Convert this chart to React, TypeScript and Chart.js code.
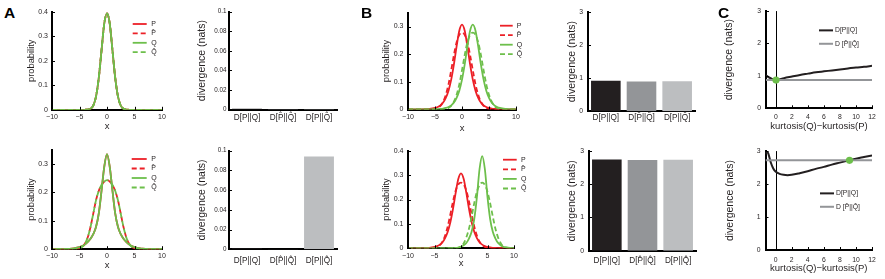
import React, { useEffect, useRef } from 'react';
import { Chart, registerables } from 'chart.js';
Chart.register(...registerables);

// ---------------- DATA ----------------
const DENS_X = [-10, -8, -6, -5, -4.5, -4, -3.5, -3, -2.5, -2, -1.5, -1, -0.5, 0, 0.5, 1, 1.5, 2, 2.5, 3, 3.5, 4, 4.5, 5, 5.5, 6, 6.5, 7, 8, 10];
const DENS_X_TICKS = [-10, -5, 0, 5, 10];

// Panel A, top row: P, P^, Q, Q^ all coincide
const A1_P = [0, 0, 0, 0, 0, 0.0001, 0.0009, 0.0044, 0.0175, 0.054, 0.129, 0.241, 0.351, 0.393, 0.351, 0.241, 0.129, 0.054, 0.0175, 0.0044, 0.0009, 0.0001, 0, 0, 0, 0, 0, 0, 0, 0];
const A1_PHAT = [0, 0, 0, 0, 0, 0.0001, 0.0009, 0.0044, 0.0175, 0.054, 0.129, 0.241, 0.351, 0.393, 0.351, 0.241, 0.129, 0.054, 0.0175, 0.0044, 0.0009, 0.0001, 0, 0, 0, 0, 0, 0, 0, 0];
const A1_Q = [0, 0, 0, 0, 0, 0.0001, 0.0009, 0.0044, 0.0175, 0.054, 0.129, 0.241, 0.351, 0.393, 0.351, 0.241, 0.129, 0.054, 0.0175, 0.0044, 0.0009, 0.0001, 0, 0, 0, 0, 0, 0, 0, 0];
const A1_QHAT = [0, 0, 0, 0, 0, 0.0001, 0.0009, 0.0044, 0.0175, 0.054, 0.129, 0.241, 0.351, 0.393, 0.351, 0.241, 0.129, 0.054, 0.0175, 0.0044, 0.0009, 0.0001, 0, 0, 0, 0, 0, 0, 0, 0];
const A1_Y_TICKS = [0, 0.1, 0.2, 0.3, 0.4];

// Panel A, bottom row
const A2_P = [0.0001, 0.0005, 0.003, 0.007, 0.011, 0.017, 0.026, 0.037, 0.053, 0.078, 0.125, 0.205, 0.29, 0.335, 0.29, 0.205, 0.125, 0.078, 0.053, 0.037, 0.026, 0.017, 0.011, 0.007, 0.0045, 0.003, 0.002, 0.0013, 0.0005, 0.0001];
const A2_PHAT = [0, 0, 0.0003, 0.003, 0.008, 0.02, 0.042, 0.078, 0.125, 0.172, 0.205, 0.226, 0.238, 0.243, 0.238, 0.226, 0.205, 0.172, 0.125, 0.078, 0.042, 0.02, 0.008, 0.003, 0.001, 0.0003, 0, 0, 0, 0];
const A2_Q = [0.0001, 0.0005, 0.003, 0.007, 0.011, 0.017, 0.026, 0.037, 0.053, 0.078, 0.125, 0.205, 0.29, 0.335, 0.29, 0.205, 0.125, 0.078, 0.053, 0.037, 0.026, 0.017, 0.011, 0.007, 0.0045, 0.003, 0.002, 0.0013, 0.0005, 0.0001];
const A2_QHAT = [0, 0, 0.0003, 0.003, 0.008, 0.02, 0.042, 0.078, 0.125, 0.172, 0.205, 0.226, 0.238, 0.243, 0.238, 0.226, 0.205, 0.172, 0.125, 0.078, 0.042, 0.02, 0.008, 0.003, 0.001, 0.0003, 0, 0, 0, 0];
const A2_Y_TICKS = [0, 0.1, 0.2, 0.3];

// Panel B, top row
const B1_P = [0.00005, 0.0003, 0.002, 0.0055, 0.009, 0.015, 0.025, 0.042, 0.068, 0.108, 0.163, 0.228, 0.285, 0.307, 0.285, 0.228, 0.163, 0.108, 0.068, 0.042, 0.025, 0.015, 0.009, 0.0055, 0.0033, 0.002, 0.0012, 0.0007, 0.0003, 0.00005];
const B1_PHAT = [0, 0, 0.0004, 0.0025, 0.006, 0.013, 0.028, 0.053, 0.091, 0.142, 0.197, 0.243, 0.27, 0.278, 0.27, 0.243, 0.197, 0.142, 0.091, 0.053, 0.028, 0.013, 0.006, 0.0025, 0.001, 0.0004, 0.0001, 0, 0, 0];
const B1_Q = [0, 0.00005, 0.0003, 0.0007, 0.0012, 0.002, 0.0033, 0.0055, 0.009, 0.015, 0.025, 0.042, 0.068, 0.108, 0.163, 0.228, 0.285, 0.307, 0.285, 0.228, 0.163, 0.108, 0.068, 0.042, 0.025, 0.015, 0.009, 0.0055, 0.002, 0.0003];
const B1_QHAT = [0, 0, 0, 0, 0.0001, 0.0004, 0.001, 0.0025, 0.006, 0.013, 0.028, 0.053, 0.091, 0.142, 0.197, 0.243, 0.27, 0.278, 0.27, 0.243, 0.197, 0.142, 0.091, 0.053, 0.028, 0.013, 0.006, 0.0025, 0.0004, 0];
const B1_Y_TICKS = [0, 0.1, 0.2, 0.3];

// Panel B, bottom row
const B2_P = [0.00005, 0.0003, 0.002, 0.0055, 0.009, 0.015, 0.025, 0.042, 0.068, 0.108, 0.163, 0.228, 0.285, 0.307, 0.285, 0.228, 0.163, 0.108, 0.068, 0.042, 0.025, 0.015, 0.009, 0.0055, 0.0033, 0.002, 0.0012, 0.0007, 0.0003, 0.00005];
const B2_PHAT = [0, 0, 0.0004, 0.0025, 0.006, 0.013, 0.027, 0.052, 0.09, 0.14, 0.193, 0.237, 0.262, 0.269, 0.262, 0.237, 0.193, 0.14, 0.09, 0.052, 0.027, 0.013, 0.006, 0.0025, 0.001, 0.0004, 0.0001, 0, 0, 0];
const B2_Q = [0, 0, 0, 0, 0, 0, 0, 0.0001, 0.0002, 0.0004, 0.0008, 0.0015, 0.003, 0.006, 0.012, 0.022, 0.04, 0.068, 0.12, 0.21, 0.325, 0.378, 0.325, 0.21, 0.12, 0.068, 0.04, 0.022, 0.006, 0.0004];
const B2_QHAT = [0, 0, 0, 0, 0, 0, 0, 0, 0, 0, 0.0004, 0.001, 0.003, 0.008, 0.02, 0.044, 0.08, 0.13, 0.185, 0.232, 0.26, 0.269, 0.26, 0.232, 0.185, 0.13, 0.08, 0.044, 0.008, 0];
const B2_Y_TICKS = [0, 0.1, 0.2, 0.3, 0.4];

// Bar panels
const BAR_LABELS = ['D[P||Q]', 'D[P\u0302||Q\u0302]', 'D[P||Q\u0302]'];
const A1_BARS = [0.0008, 0.0005, 0.0005];
const A2_BARS = [0.0008, 0.0004, 0.094];
const A_BAR_Y_TICKS = [0, 0.02, 0.04, 0.06, 0.08, 0.1];
const B1_BARS = [0.92, 0.9, 0.91];
const B2_BARS = [2.75, 2.73, 2.74];
const B_BAR_Y_TICKS = [0, 1, 2, 3];

// Panel C
const C_X_TICKS = [0, 2, 4, 6, 8, 10, 12];
const C_Y_TICKS = [0, 1, 2, 3];
const C1_X = [-1.25, -1, -0.5, 0, 1, 2, 3, 4, 5, 6, 7, 8, 9, 10, 11, 12];
const C1_D = [1.02, 0.97, 0.91, 0.87, 0.93, 0.98, 1.03, 1.07, 1.11, 1.14, 1.17, 1.2, 1.23, 1.26, 1.28, 1.31];
const C1_DHAT = 0.87;
const C1_CROSS = [{ x: 0, y: 0.87 }];
const C2_X = [-1.25, -1.1, -0.9, -0.6, -0.3, 0, 0.5, 1, 1.5, 2, 3, 4, 5, 6, 7, 8, 9, 10, 11, 12];
const C2_D = [2.9, 3.0, 2.92, 2.66, 2.48, 2.38, 2.31, 2.28, 2.27, 2.28, 2.33, 2.39, 2.46, 2.52, 2.59, 2.65, 2.71, 2.77, 2.82, 2.87];
const C2_DHAT = 2.72;
const C2_CROSS = [{ x: 9.2, y: 2.72 }];
const C_VLINE_X = 0;

// ---------------- STYLE ----------------
const FONT = "'Liberation Sans', Arial, Helvetica, sans-serif";
const TXT = '#231f20';
const RED = '#ec2027';
const GREEN = '#6dbf4b';
const BAR_COLORS = ['#231f20', '#939598', '#bcbec0'];
const GRAY_LINE = '#939598';

type Area = { l: number; t: number; r: number; b: number };
interface Frame {
  area: Area;
  yTitle: string; yTitleSize: number; yTitleX: number;
  xTitle?: string; xTitleSize?: number; xTitleY?: number;
  xTickSize: number; xTickCenterY: number;
  yTickSize: number; yTickPad: number;
  rightExtra: number;
  bottomExtra?: number;
}

function fmt(v: number) {
  if (v === 0) return '0';
  return v < 0 ? '\u2212' + String(-v) : String(v);
}

function computeCanvas(f: Frame) {
  const yLH = f.yTitleSize * 1.2;
  const exactLeft = f.yTitleX - yLH / 2;
  const x = Math.floor(exactLeft);
  const yTitlePad = exactLeft - x;
  const y = Math.floor(f.area.t - 8);
  let bottomExact: number;
  if (f.xTitle) bottomExact = (f.xTitleY as number) + (f.xTitleSize as number) * 1.2 / 2;
  else bottomExact = f.area.b + (f.bottomExtra ?? 22);
  const bottom = Math.ceil(bottomExact);
  const xTitlePad = bottom - bottomExact;
  const right = Math.ceil(f.area.r + f.rightExtra);
  return { x, y, w: right - x, h: bottom - y, yTitlePad, xTitlePad };
}

const inTicks = {
  id: 'inTicks',
  beforeDatasetsDraw(chart: any, _a: any, o: any) {
    const { ctx, chartArea, scales } = chart;
    ctx.save();
    if (o.vline !== undefined && o.vline !== null) {
      const px = Math.round(scales.x.getPixelForValue(o.vline)) + 0.5;
      ctx.strokeStyle = '#000';
      ctx.lineWidth = 1;
      ctx.beginPath();
      ctx.moveTo(px, chartArea.top);
      ctx.lineTo(px, chartArea.bottom);
      ctx.stroke();
    }
    ctx.restore();
  },
  afterDatasetsDraw(chart: any, _a: any, o: any) {
    const { ctx, chartArea, scales } = chart;
    ctx.save();
    ctx.strokeStyle = '#000';
    ctx.lineWidth = 1;
    if (o.x) {
      scales.x.ticks.forEach((t: any) => {
        const px = Math.round(scales.x.getPixelForValue(t.value)) + 0.5;
        ctx.beginPath();
        ctx.moveTo(px, chartArea.bottom);
        ctx.lineTo(px, chartArea.bottom - o.x);
        ctx.stroke();
      });
    }
    if (o.y) {
      scales.y.ticks.forEach((t: any) => {
        const py = Math.round(scales.y.getPixelForValue(t.value)) + 0.5;
        ctx.beginPath();
        ctx.moveTo(chartArea.left, py);
        ctx.lineTo(chartArea.left + o.y, py);
        ctx.stroke();
      });
    }
    ctx.restore();
  },
};

const miniLegend = {
  id: 'miniLegend',
  afterDatasetsDraw(chart: any, _a: any, o: any) {
    if (!o || !o.show) return;
    const { ctx, chartArea } = chart;
    const x0 = chartArea.left + o.dx;
    let y = chartArea.top + o.dy;
    ctx.save();
    ctx.font = `${o.size}px ${FONT}`;
    ctx.textBaseline = 'middle';
    ctx.textAlign = 'left';
    ctx.fillStyle = TXT;
    chart.data.datasets.forEach((ds: any) => {
      if (!ds.label) return;
      ctx.beginPath();
      ctx.strokeStyle = ds.borderColor;
      ctx.lineWidth = ds.borderWidth;
      ctx.setLineDash(ds.borderDash || []);
      ctx.moveTo(x0, y);
      ctx.lineTo(x0 + o.len, y);
      ctx.stroke();
      ctx.setLineDash([]);
      ctx.fillText(ds.label, x0 + o.len + o.gap, y);
      y += o.step;
    });
    ctx.restore();
  },
};

function makeOptions(f: Frame, c: any, xScale: any, yScale: any, plugins: any) {
  const font = (size: number) => ({ family: FONT, size, lineHeight: 1.2 });
  return {
    responsive: false,
    animation: false,
    events: [],
    layout: { padding: { left: 0, top: f.area.t - c.y, right: c.x + c.w - f.area.r, bottom: 0 } },
    plugins: { legend: { display: false }, tooltip: { enabled: false }, title: { display: false }, ...plugins },
    scales: {
      x: {
        ...xScale,
        position: 'bottom',
        grid: { display: false, drawTicks: false },
        border: { display: true, color: '#000', width: 2 },
        ticks: {
          ...(xScale.ticks || {}),
          font: font(f.xTickSize),
          color: TXT,
          padding: f.xTickCenterY - f.area.b - f.xTickSize * 0.6,
          maxRotation: 0,
          minRotation: 0,
          autoSkip: false,
        },
        title: f.xTitle
          ? { display: true, text: f.xTitle, font: font(f.xTitleSize as number), color: TXT, padding: { top: 0, bottom: c.xTitlePad } }
          : { display: false },
        afterFit: (s: any) => { s.height = c.y + c.h - f.area.b; },
      },
      y: {
        ...yScale,
        position: 'left',
        grid: { display: false, drawTicks: false },
        border: { display: true, color: '#000', width: 2 },
        ticks: { font: font(f.yTickSize), color: TXT, padding: f.yTickPad, callback: (v: any) => fmt(Number(v)) },
        title: { display: true, text: f.yTitle, font: font(f.yTitleSize), color: TXT, padding: { top: c.yTitlePad, bottom: 0 } },
        afterFit: (s: any) => { s.width = f.area.l - c.x; },
      },
    },
  };
}

function ticksFrom(values: number[]) {
  return (s: any) => { s.ticks = values.map((v) => ({ value: v })); };
}

interface Series { label: string; data: number[]; color: string; dashed: boolean; dashOffset?: number }

function densitySpec(f: Frame, series: Series[], yMax: number, yTicks: number[], leg: any) {
  const c = computeCanvas(f);
  const datasets = series.map((s, i) => ({
    label: s.label,
    data: DENS_X.map((x, j) => ({ x, y: s.data[j] })),
    borderColor: s.color,
    borderWidth: 1.8,
    borderDash: s.dashed ? [5, 3] : [],
    borderDashOffset: s.dashOffset || 0,
    pointRadius: 0,
    fill: false,
    cubicInterpolationMode: 'monotone',
    order: series.length - i,
  }));
  const options = makeOptions(
    f, c,
    { type: 'linear', min: -10, max: 10, afterBuildTicks: ticksFrom(DENS_X_TICKS), ticks: { callback: (v: any) => fmt(Number(v)) } },
    { type: 'linear', min: 0, max: yMax, afterBuildTicks: ticksFrom(yTicks) },
    {
      inTicks: { x: 3, y: 3 },
      miniLegend: { show: true, dx: leg.x - f.area.l, dy: leg.y - f.area.t, step: leg.step, len: leg.len, gap: leg.gap, size: 7 },
    },
  );
  return { c, config: { type: 'line', data: { datasets }, options, plugins: [inTicks, miniLegend] } };
}

function barSpec(f: Frame, values: number[], yMax: number, yTicks: number[]) {
  const c = computeCanvas(f);
  const options = makeOptions(
    f, c,
    { type: 'category' },
    { type: 'linear', min: 0, max: yMax, afterBuildTicks: ticksFrom(yTicks) },
    { inTicks: { x: 0, y: 3 }, miniLegend: { show: false } },
  );
  return {
    c,
    config: {
      type: 'bar',
      data: {
        labels: BAR_LABELS,
        datasets: [{ data: values, backgroundColor: BAR_COLORS, borderWidth: 0, barPercentage: 0.83, categoryPercentage: 1 }],
      },
      options,
      plugins: [inTicks, miniLegend],
    },
  };
}

function cSpec(f: Frame, xs: number[], d: number[], dhat: number, cross: { x: number; y: number }[], leg: any) {
  const c = computeCanvas(f);
  const datasets = [
    {
      label: 'D[P||Q]',
      data: xs.map((x, i) => ({ x, y: d[i] })),
      borderColor: '#231f20', borderWidth: 2, pointRadius: 0, fill: false, cubicInterpolationMode: 'monotone', order: 3,
    },
    {
      label: 'D [P\u0302||Q\u0302]',
      data: xs.map((x) => ({ x, y: dhat })),
      borderColor: GRAY_LINE, borderWidth: 2, pointRadius: 0, fill: false, order: 2,
    },
    {
      label: '',
      data: cross,
      showLine: false, pointRadius: 3.6, pointBackgroundColor: GREEN, pointBorderWidth: 0, borderColor: GREEN, order: 0,
    },
  ];
  const options = makeOptions(
    f, c,
    { type: 'linear', min: -1.25, max: 12, afterBuildTicks: ticksFrom(C_X_TICKS), ticks: { callback: (v: any) => fmt(Number(v)) } },
    { type: 'linear', min: 0, max: 3, afterBuildTicks: ticksFrom(C_Y_TICKS) },
    {
      inTicks: { x: 3, y: 3, vline: C_VLINE_X },
      miniLegend: { show: true, dx: leg.x - f.area.l, dy: leg.y - f.area.t, step: leg.step, len: 14, gap: 2, size: 6.8 },
    },
  );
  return { c, config: { type: 'line', data: { datasets }, options, plugins: [inTicks, miniLegend] } };
}

function buildSpecs() {
  const specs: any[] = [];
  // A top density
  specs.push(densitySpec(
    { area: { l: 52, t: 11.7, r: 162, b: 109.8 }, yTitle: 'probability', yTitleSize: 9.3, yTitleX: 31.7,
      xTitle: 'x', xTitleSize: 9.5, xTitleY: 126.5, xTickSize: 7, xTickCenterY: 117.3, yTickSize: 7, yTickPad: 4, rightExtra: 12 },
    [
      { label: 'P', data: A1_P, color: RED, dashed: false },
      { label: 'P\u0302', data: A1_PHAT, color: RED, dashed: true },
      { label: 'Q', data: A1_Q, color: GREEN, dashed: false },
      { label: 'Q\u0302', data: A1_QHAT, color: GREEN, dashed: true },
    ], 0.4, A1_Y_TICKS, { x: 132.7, y: 24, step: 9.4, len: 14, gap: 4.5 }));
  // A bottom density
  specs.push(densitySpec(
    { area: { l: 52, t: 149.8, r: 162, b: 249.2 }, yTitle: 'probability', yTitleSize: 9.3, yTitleX: 31.7,
      xTitle: 'x', xTitleSize: 9.5, xTitleY: 265, xTickSize: 7, xTickCenterY: 255.9, yTickSize: 7, yTickPad: 4, rightExtra: 12 },
    [
      { label: 'P', data: A2_P, color: RED, dashed: false },
      { label: 'P\u0302', data: A2_PHAT, color: RED, dashed: true },
      { label: 'Q', data: A2_Q, color: GREEN, dashed: false },
      { label: 'Q\u0302', data: A2_QHAT, color: GREEN, dashed: true, dashOffset: 4 },
    ], 0.35, A2_Y_TICKS, { x: 131.7, y: 159, step: 9.5, len: 15, gap: 4.5 }));
  // B top density
  specs.push(densitySpec(
    { area: { l: 408, t: 12, r: 516, b: 109.5 }, yTitle: 'probability', yTitleSize: 9.3, yTitleX: 386.7,
      xTitle: 'x', xTitleSize: 9.5, xTitleY: 128.3, xTickSize: 7, xTickCenterY: 117.3, yTickSize: 7, yTickPad: 4.5, rightExtra: 14 },
    [
      { label: 'P', data: B1_P, color: RED, dashed: false },
      { label: 'P\u0302', data: B1_PHAT, color: RED, dashed: true },
      { label: 'Q', data: B1_Q, color: GREEN, dashed: false },
      { label: 'Q\u0302', data: B1_QHAT, color: GREEN, dashed: true },
    ], 0.35, B1_Y_TICKS, { x: 500, y: 25, step: 9.5, len: 12.7, gap: 4 }));
  // B bottom density
  specs.push(densitySpec(
    { area: { l: 408, t: 150, r: 514, b: 248.3 }, yTitle: 'probability', yTitleSize: 9.3, yTitleX: 386.7,
      xTitle: 'x', xTitleSize: 9.5, xTitleY: 263.3, xTickSize: 7, xTickCenterY: 255.7, yTickSize: 7, yTickPad: 4.5, rightExtra: 16 },
    [
      { label: 'P', data: B2_P, color: RED, dashed: false },
      { label: 'P\u0302', data: B2_PHAT, color: RED, dashed: true },
      { label: 'Q', data: B2_Q, color: GREEN, dashed: false },
      { label: 'Q\u0302', data: B2_QHAT, color: GREEN, dashed: true },
    ], 0.4, B2_Y_TICKS, { x: 503, y: 159, step: 9.6, len: 13.7, gap: 4.3 }));
  // A bars
  specs.push(barSpec(
    { area: { l: 229, t: 11.7, r: 337, b: 109.5 }, yTitle: 'divergence (nats)', yTitleSize: 10.5, yTitleX: 201.7,
      xTickSize: 8.2, xTickCenterY: 117.5, yTickSize: 6.3, yTickPad: 2.5, rightExtra: 10 },
    A1_BARS, 0.1, A_BAR_Y_TICKS));
  specs.push(barSpec(
    { area: { l: 229, t: 150.7, r: 337, b: 249.3 }, yTitle: 'divergence (nats)', yTitleSize: 10.5, yTitleX: 201.7,
      xTickSize: 8.2, xTickCenterY: 261, yTickSize: 6.3, yTickPad: 2.5, rightExtra: 10 },
    A2_BARS, 0.1, A_BAR_Y_TICKS));
  // B bars
  specs.push(barSpec(
    { area: { l: 588, t: 11.7, r: 695, b: 111.3 }, yTitle: 'divergence (nats)', yTitleSize: 10.5, yTitleX: 571.7,
      xTickSize: 8.2, xTickCenterY: 117.5, yTickSize: 6.8, yTickPad: 5, rightExtra: 10 },
    B1_BARS, 3, B_BAR_Y_TICKS));
  specs.push(barSpec(
    { area: { l: 589, t: 150.7, r: 696, b: 250.7 }, yTitle: 'divergence (nats)', yTitleSize: 10.5, yTitleX: 571.7,
      xTickSize: 8.2, xTickCenterY: 261, yTickSize: 6.8, yTickPad: 5, rightExtra: 10 },
    B2_BARS, 3, B_BAR_Y_TICKS));
  // C
  specs.push(cSpec(
    { area: { l: 766, t: 10, r: 872, b: 108.3 }, yTitle: 'divergence (nats)', yTitleSize: 10.5, yTitleX: 729,
      xTitle: 'kurtosis(Q)\u2212kurtosis(P)', xTitleSize: 9.5, xTitleY: 126.7, xTickSize: 6.8, xTickCenterY: 116.7,
      yTickSize: 6.8, yTickPad: 5, rightExtra: 12 },
    C1_X, C1_D, C1_DHAT, C1_CROSS, { x: 819, y: 29.3, step: 13.4 }));
  specs.push(cSpec(
    { area: { l: 765.5, t: 150, r: 872, b: 250 }, yTitle: 'divergence (nats)', yTitleSize: 10.5, yTitleX: 730,
      xTitle: 'kurtosis(Q)\u2212kurtosis(P)', xTitleSize: 9.5, xTitleY: 268.3, xTickSize: 6.8, xTickCenterY: 260,
      yTickSize: 6.8, yTickPad: 5, rightExtra: 12 },
    C2_X, C2_D, C2_DHAT, C2_CROSS, { x: 820, y: 192.3, step: 13.4 }));
  return specs;
}

function Panel({ spec }: { spec: any }) {
  const ref = useRef<HTMLCanvasElement>(null);
  useEffect(() => {
    const chart = new Chart(ref.current as HTMLCanvasElement, spec.config);
    return () => chart.destroy();
  }, [spec]);
  const { c } = spec;
  return (
    <canvas
      ref={ref}
      width={c.w}
      height={c.h}
      style={{ position: 'absolute', left: c.x, top: c.y, width: c.w, height: c.h }}
    />
  );
}

const SPECS = buildSpecs();

const letterStyle = (left: number, top: number): React.CSSProperties => ({
  position: 'absolute', left, top, fontFamily: FONT, fontWeight: 'bold', fontSize: 15.5, lineHeight: '15.5px', color: '#000',
});

export default function App() {
  return (
    <div style={{ position: 'absolute', left: 0, top: 0, width: 885, height: 279, background: '#fff', overflow: 'hidden' }}>
      {SPECS.map((s, i) => <Panel key={i} spec={s} />)}
      <div style={letterStyle(4, 5.2)}>A</div>
      <div style={letterStyle(361, 5.2)}>B</div>
      <div style={letterStyle(718, 5.2)}>C</div>
    </div>
  );
}
